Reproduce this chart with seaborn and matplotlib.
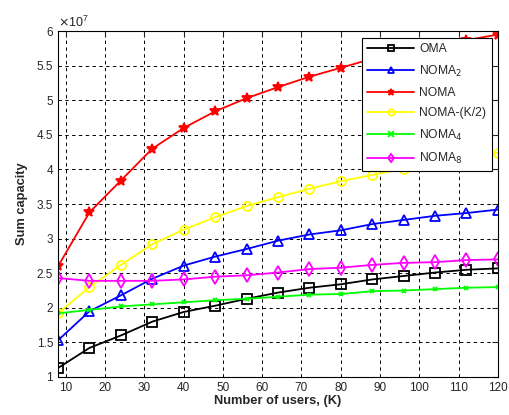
import matplotlib
matplotlib.use("Agg")
import matplotlib.pyplot as plt
from matplotlib.ticker import ScalarFormatter
import seaborn as sns
import numpy as np

sns.set_style("white")
plt.rcParams["font.family"] = ["Liberation Sans", "DejaVu Sans"]

users = [8, 16, 24, 32, 40, 48, 56, 64, 72, 80, 88, 96, 104, 112, 120]

oma = [1.13, 1.42, 1.60, 1.80, 1.94, 2.03, 2.13, 2.22, 2.29, 2.34, 2.41, 2.46, 2.51, 2.55, 2.57]
noma_2 = [1.53, 1.95, 2.18, 2.42, 2.61, 2.74, 2.85, 2.97, 3.06, 3.12, 3.21, 3.27, 3.33, 3.37, 3.42]
noma = [2.60, 3.38, 3.84, 4.30, 4.60, 4.84, 5.03, 5.19, 5.34, 5.47, 5.60, 5.70, 5.79, 5.87, 5.95]
noma_half = [1.92, 2.30, 2.62, 2.92, 3.13, 3.31, 3.47, 3.60, 3.72, 3.83, 3.92, 4.01, 4.09, 4.17, 4.24]
noma_4 = [1.92, 1.97, 2.02, 2.05, 2.08, 2.11, 2.13, 2.16, 2.19, 2.20, 2.24, 2.25, 2.27, 2.29, 2.30]
noma_8 = [2.43, 2.39, 2.39, 2.39, 2.41, 2.45, 2.47, 2.51, 2.56, 2.58, 2.62, 2.65, 2.66, 2.69, 2.70]

scale = 1e7
series = [
    ("OMA", oma, "black", "s", 6.5, True),
    ("NOMA$_2$", noma_2, "#0000ff", "^", 6.5, True),
    ("NOMA", noma, "#ff0000", "*", 7.5, False),
    ("NOMA-(K/2)", noma_half, "#ffff00", "o", 6.5, True),
    ("NOMA$_4$", noma_4, "#00ff00", "x", 3.5, False),
    ("NOMA$_8$", noma_8, "#ff00ff", "d", 7, True),
]


class PlainSciFormatter(ScalarFormatter):
    """Scientific offset on the axis, but tick numbers printed like 6, 5.5, 5."""
    def _set_format(self):
        self.format = "%g"


fig = plt.figure(figsize=(5.09, 4.15), dpi=100)
ax = fig.add_axes([0.114, 0.0916, 0.864, 0.8334])

for label, vals, color, marker, ms, hollow in series:
    y = np.array(vals) * scale
    sns.lineplot(
        x=users, y=y, ax=ax, label=label, color=color, marker=marker,
        markersize=ms, markerfacecolor="none" if hollow else color,
        markeredgecolor=color, markeredgewidth=1.3, linewidth=1.3,
    )

ax.set_xlim(8, 120)
ax.set_ylim(1e7, 6e7)
ax.set_xticks(np.arange(10, 121, 10))
ax.set_yticks(np.arange(1e7, 6.01e7, 0.5e7))
fmt = PlainSciFormatter(useMathText=True)
fmt.set_powerlimits((0, 0))
ax.yaxis.set_major_formatter(fmt)
ax.yaxis.get_offset_text().set_fontsize(9)

ax.grid(True, color="black", linestyle=(0, (3.5, 3.5)), linewidth=0.7)
ax.tick_params(axis="both", direction="in", labelsize=8.5, length=4, top=True, right=True)
for sp in ax.spines.values():
    sp.set_color("black")
    sp.set_linewidth(0.8)

ax.set_xlabel("Number of users, (K)", fontsize=9.3, fontweight="bold", labelpad=1)
ax.set_ylabel("Sum capacity", fontsize=9.3, fontweight="bold", labelpad=6)

leg = ax.legend(loc="upper right", bbox_to_anchor=(0.986, 0.98), borderaxespad=0,
                fontsize=8.7, frameon=True, fancybox=False, edgecolor="black",
                framealpha=1, handlelength=3.9, handletextpad=0.4,
                labelspacing=0.68, borderpad=0.45)
leg.get_frame().set_linewidth(0.8)
for h in leg.legend_handles:
    h.set_markersize(4.5)

fig.savefig("out.png", dpi=100)
